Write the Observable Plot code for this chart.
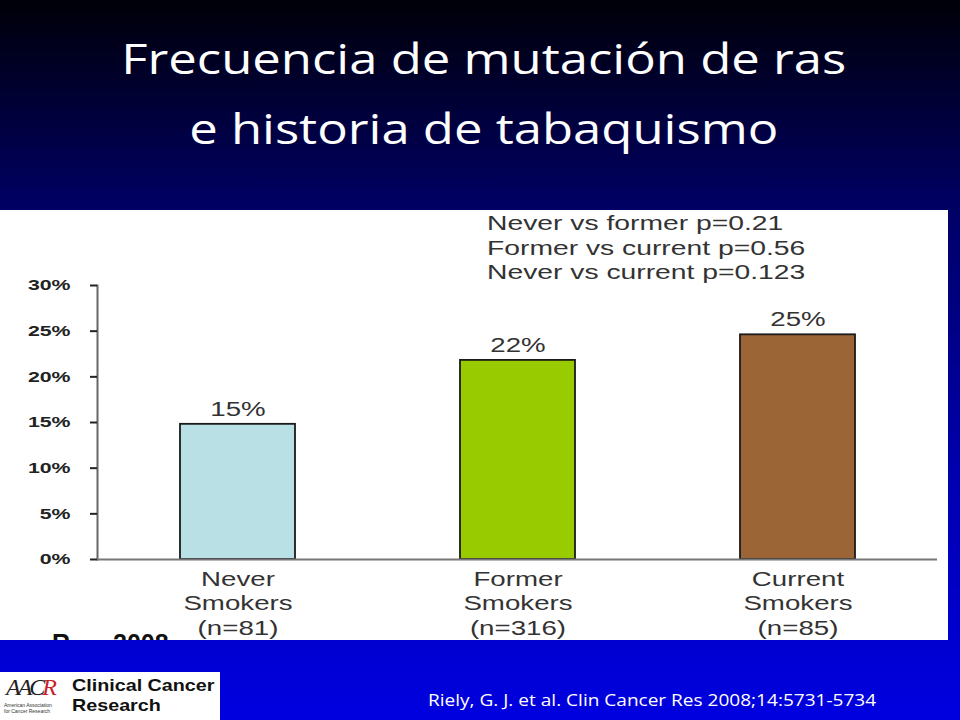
<!DOCTYPE html>
<html>
<head>
<meta charset="utf-8">
<script src="https://cdn.jsdelivr.net/npm/d3@7"></script>
<script src="https://cdn.jsdelivr.net/npm/@observablehq/plot@0.6"></script>
<style>
  html, body { margin: 0; padding: 0; }
  body {
    width: 960px; height: 720px; position: relative; overflow: hidden;
    background: linear-gradient(to bottom, #000008 0px, #000066 210px, #0000b0 480px, #0000e0 720px);
    font-family: "Liberation Sans", Arial, sans-serif;
  }
  #title {
    position: absolute; left: 5px; top: 23px; width: 960px; text-align: center;
    color: #fff; font-family: "Open Sans", "Noto Sans", sans-serif; font-size: 42px;
    line-height: 70px; transform: scaleX(1.21); transform-origin: 486px 0;
  }
  #panel {
    position: absolute; left: 0; top: 210px; width: 948px; height: 430px;
    background: #fff; overflow: hidden;
  }
  #ptext {
    position: absolute; left: 487px; top: 1px; font-size: 19.5px; line-height: 24.5px;
    color: #333; transform: scaleX(1.45); transform-origin: 0 0; white-space: nowrap;
  }
  .ref {
    position: absolute; top: 419px; font-size: 25px; font-weight: bold; color: #111;
  }
  #logo {
    position: absolute; left: 0; top: 672px; width: 220px; height: 48px; background: #fff;
  }
  #aacr {
    position: absolute; left: 6px; top: 2px; font-family: "Liberation Serif", serif; font-style: italic;
    font-size: 24px; line-height: 26px; color: #222; letter-spacing: -3px;
  }
  #aacr span { color: #c8202a; }
  #aacrsub {
    position: absolute; left: 4px; top: 30px; font-size: 5px; line-height: 6px; color: #333;
  }
  .ccr {
    position: absolute; left: 72px; font-family: "Liberation Sans", Arial, sans-serif; font-weight: bold;
    font-size: 17px; line-height: 19px; color: #111;
    transform: scaleX(1.16); transform-origin: 0 0; white-space: nowrap;
  }
  #cite {
    position: absolute; left: 428px; top: 688px; color: #fff; white-space: nowrap;
    font-family: "Open Sans", "Noto Sans", sans-serif; font-size: 17px;
    transform: scaleX(1.12); transform-origin: 0 0;
  }
</style>
</head>
<body>
<div id="title">Frecuencia de mutación de ras<br>e historia de tabaquismo</div>
<div id="panel">
  <div id="chart"></div>
  <div id="ptext"></div>
  <div class="ref" style="left:52px">R</div>
  <div class="ref" style="left:113px">2008</div>
</div>
<div id="logo">
  <div id="aacr">AAC<span>R</span></div>
  <div id="aacrsub">American Association<br>for Cancer Research</div>
  <div class="ccr" style="top:4px">Clinical Cancer</div>
  <div class="ccr" style="top:24px">Research</div>
</div>
<div id="cite">Riely, G. J. et al. Clin Cancer Res 2008;14:5731-5734</div>
<script>
const categories = ["Never", "Former", "Current"];
const categoryLabels = ["Never\nSmokers\n(n=81)", "Former\nSmokers\n(n=316)", "Current\nSmokers\n(n=85)"];
const values = [14.8, 21.8, 24.6];
const valueLabels = ["15%", "22%", "25%"];
const barColors = ["#b9e0e5", "#99cc00", "#9c6535"];
const yTicks = [0, 5, 10, 15, 20, 25, 30];
const pValues = ["Never vs former p=0.21", "Former vs current p=0.56", "Never vs current p=0.123"];

document.getElementById("ptext").innerHTML = pValues.join("<br>");

const data = categories.map((c, i) => ({cat: c, value: values[i], label: valueLabels[i], color: barColors[i]}));
const labelOf = new Map(categories.map((c, i) => [c, categoryLabels[i]]));

const chart = Plot.plot({
  width: 948,
  height: 430,
  marginLeft: 97,
  marginRight: 11,
  marginTop: 75,
  marginBottom: 81,
  style: {background: "transparent", fontFamily: "'Liberation Sans', Arial, sans-serif", overflow: "visible"},
  x: {domain: categories, paddingInner: 0.59, paddingOuter: 0.295, label: null},
  y: {domain: [0, 30], label: null},
  marks: [
    Plot.frame({anchor: "left", stroke: "#666", strokeWidth: 2}),
    Plot.axisY({ticks: yTicks, tickFormat: d => d + "%", tickSize: 7, tickPadding: 20, stroke: "#222", strokeWidth: 2,
      fontSize: 15, fontWeight: "bold", fill: "#222", label: null}),
    Plot.axisX({tickSize: 0, tickPadding: 9, tickFormat: d => labelOf.get(d), fontSize: 19.5, fill: "#333",
      lineHeight: 1.25, lineAnchor: "top", label: null}),
    Plot.barY(data, {x: "cat", y: "value", fill: "color", stroke: "#1a1a1a", strokeWidth: 1.8}),
    Plot.ruleY([0], {stroke: "#777", strokeWidth: 2}),
    Plot.text(data, {x: "cat", y: "value", text: "label", dy: -15, fontSize: 19.5, fill: "#333"})
  ]
});
// The source image is horizontally stretched: widen every text around its anchor
chart.querySelectorAll("text").forEach(t => {
  const tr = t.getAttribute("transform");
  if (tr) t.setAttribute("transform", tr + " scale(1.42,1)");
});
document.getElementById("chart").appendChild(chart);
</script>
</body>
</html>
